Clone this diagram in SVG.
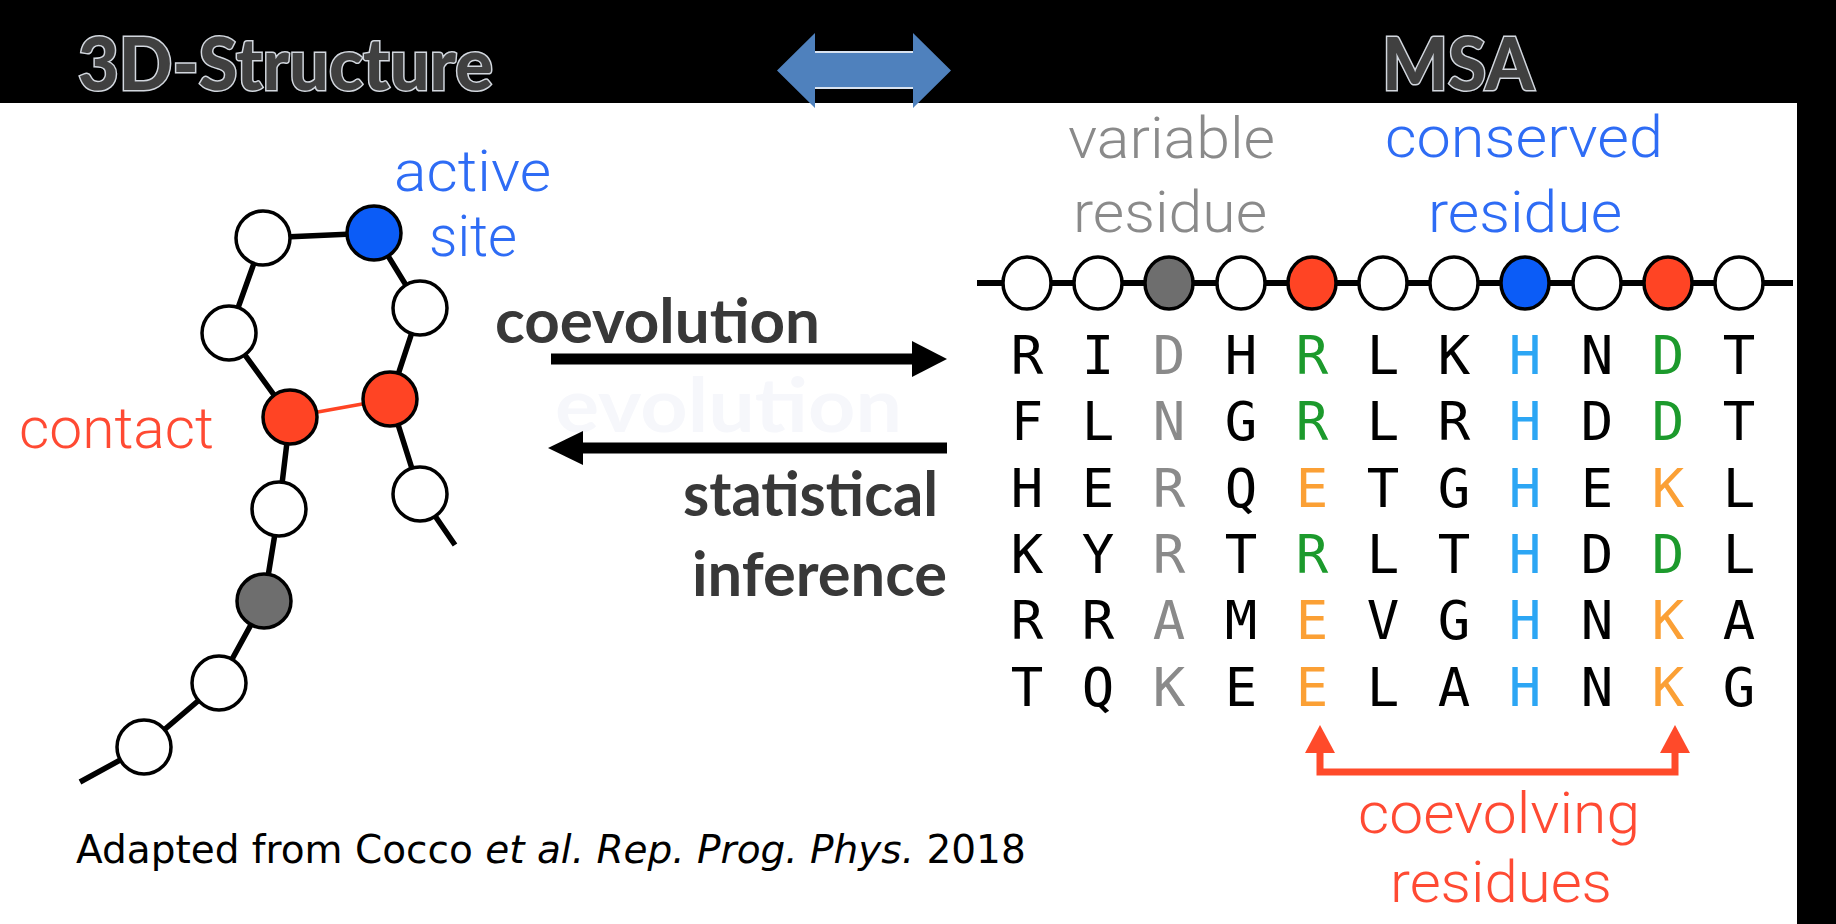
<svg xmlns="http://www.w3.org/2000/svg" width="1836" height="924" viewBox="0 0 1836 924">
  <style>
    .title { font-family: Lato, "Liberation Sans", sans-serif; font-weight: 900; font-size: 72px; fill: #404040; stroke: #d2d7de; stroke-width: 3px; paint-order: stroke; }
    .lbl { font-family: Roboto, "Liberation Sans", sans-serif; font-weight: 300; font-size: 58px; }
    .bold { font-family: Lato, "Liberation Sans", sans-serif; font-weight: 700; font-size: 62px; fill: #383838; }
    .msa { font-family: "DejaVu Sans Mono", "Liberation Mono", monospace; font-size: 54px; text-anchor: middle; fill: #000; }
    .g { fill: #8a8a8a; } .gr { fill: #1c9a2c; } .bl { fill: #2ca6f4; } .or { fill: #fba035; }
    .node { stroke: #000; stroke-width: 3.5; }
    .w { fill: #fff; } .red { fill: #ff4424; } .blue { fill: #0b5cf7; } .gray { fill: #6e6e6e; }
    .chain { stroke: #000; stroke-width: 5.5; fill: none; stroke-linecap: butt; }
  </style>

  <rect x="0" y="0" width="1836" height="924" fill="#000"/>
  <rect x="0" y="103" width="1797" height="821" fill="#fff"/>

  <!-- titles -->
  <text id="title-3d" class="title" x="78" y="90" textLength="415" lengthAdjust="spacingAndGlyphs">3D-Structure</text>
  <text id="title-msa" class="title" x="1382" y="90" textLength="152" lengthAdjust="spacingAndGlyphs">MSA</text>

  <!-- top double arrow -->
  <g id="top-arrow">
    <polygon points="777,70.5 815,33 815,52 913,52 913,33 951,70.5 913,108 913,88 815,88 815,108" fill="#4f81bd"/>
    <line x1="815" y1="52" x2="913" y2="52" stroke="#d9e3f0" stroke-width="2"/>
    <line x1="815" y1="88" x2="913" y2="88" stroke="#d9e3f0" stroke-width="2"/>
  </g>

  <!-- left structure connectors -->
  <g id="structure-connectors">
    <polyline class="chain" points="80,782 144,747 219,683 264,601 279,509 290,417 229,333 263,238 374,233 420,308 390,399 420,494 455,545"/>
    <line x1="290" y1="417" x2="390" y2="399" stroke="#ff4424" stroke-width="3.5"/>
  </g>

  <!-- left structure nodes -->
  <g id="s1"><circle class="node w" cx="144" cy="747" r="27"/></g>
  <g id="s2"><circle class="node w" cx="219" cy="683" r="27"/></g>
  <g id="s3"><circle class="node gray" cx="264" cy="601" r="27"/></g>
  <g id="s4"><circle class="node w" cx="279" cy="509" r="27"/></g>
  <g id="s5"><circle class="node red" cx="290" cy="417" r="27"/></g>
  <g id="s6"><circle class="node w" cx="229" cy="333" r="27"/></g>
  <g id="s7"><circle class="node w" cx="263" cy="238" r="27"/></g>
  <g id="s8"><circle class="node blue" cx="374" cy="233" r="27"/></g>
  <g id="s9"><circle class="node w" cx="420" cy="308" r="27"/></g>
  <g id="s10"><circle class="node red" cx="390" cy="399" r="27"/></g>
  <g id="s11"><circle class="node w" cx="420" cy="494" r="27"/></g>

  <g id="labels-left">
    <text class="lbl" x="394" y="191" font-size="54" fill="#2e6cf5" textLength="157" lengthAdjust="spacingAndGlyphs">active</text>
    <text class="lbl" x="429" y="256" font-size="54" fill="#2e6cf5" textLength="88" lengthAdjust="spacingAndGlyphs">site</text>
    <text class="lbl" x="19" y="448" fill="#ff4a33" textLength="195" lengthAdjust="spacingAndGlyphs">contact</text>
  </g>

  <!-- middle arrows -->
  <g id="middle-arrows">
    <text x="555" y="432" font-family="Lato, 'Liberation Sans', sans-serif" font-weight="700" font-size="75" fill="#f6f7fb" textLength="347" lengthAdjust="spacingAndGlyphs">evolution</text>
    <rect x="551" y="353.5" width="363" height="11" fill="#000"/>
    <polygon points="912,341 947,359 912,377" fill="#000"/>
    <rect x="582" y="442.5" width="365" height="11" fill="#000"/>
    <polygon points="583,431 548,448 583,465" fill="#000"/>
    <text class="bold" x="495" y="343" textLength="325" lengthAdjust="spacingAndGlyphs">coevolution</text>
    <text class="bold" x="683" y="516" textLength="255" lengthAdjust="spacingAndGlyphs">statistical</text>
    <text class="bold" x="692" y="596" textLength="255" lengthAdjust="spacingAndGlyphs">inference</text>
  </g>

  <!-- MSA labels -->
  <g id="labels-msa">
    <text class="lbl" x="1068" y="158" fill="#8a8a8a" textLength="207" lengthAdjust="spacingAndGlyphs">variable</text>
    <text class="lbl" x="1073" y="232" fill="#8a8a8a" textLength="194" lengthAdjust="spacingAndGlyphs">residue</text>
    <text class="lbl" x="1385" y="157" fill="#2e6cf5" textLength="278" lengthAdjust="spacingAndGlyphs">conserved</text>
    <text class="lbl" x="1428" y="232" fill="#2e6cf5" textLength="194" lengthAdjust="spacingAndGlyphs">residue</text>
  </g>

  <!-- MSA chain -->
  <g id="msa-connectors">
    <line x1="977" y1="283" x2="1793" y2="283" stroke="#000" stroke-width="6"/>
  </g>
  <g id="m1"><ellipse class="node w" cx="1027" cy="283" rx="24" ry="26"/></g>
  <g id="m2"><ellipse class="node w" cx="1098" cy="283" rx="24" ry="26"/></g>
  <g id="m3"><ellipse class="node gray" cx="1169" cy="283" rx="24" ry="26"/></g>
  <g id="m4"><ellipse class="node w" cx="1241" cy="283" rx="24" ry="26"/></g>
  <g id="m5"><ellipse class="node red" cx="1312" cy="283" rx="24" ry="26"/></g>
  <g id="m6"><ellipse class="node w" cx="1383" cy="283" rx="24" ry="26"/></g>
  <g id="m7"><ellipse class="node w" cx="1454" cy="283" rx="24" ry="26"/></g>
  <g id="m8"><ellipse class="node blue" cx="1525" cy="283" rx="24" ry="26"/></g>
  <g id="m9"><ellipse class="node w" cx="1597" cy="283" rx="24" ry="26"/></g>
  <g id="m10"><ellipse class="node red" cx="1668" cy="283" rx="24" ry="26"/></g>
  <g id="m11"><ellipse class="node w" cx="1739" cy="283" rx="24" ry="26"/></g>

  <!-- MSA letters -->
  <g id="alignment" class="msa">
    <text y="374"><tspan x="1027">R</tspan><tspan x="1098">I</tspan><tspan x="1169" class="g">D</tspan><tspan x="1241">H</tspan><tspan x="1312" class="gr">R</tspan><tspan x="1383">L</tspan><tspan x="1454">K</tspan><tspan x="1525" class="bl">H</tspan><tspan x="1597">N</tspan><tspan x="1668" class="gr">D</tspan><tspan x="1739">T</tspan></text>
    <text y="440"><tspan x="1027">F</tspan><tspan x="1098">L</tspan><tspan x="1169" class="g">N</tspan><tspan x="1241">G</tspan><tspan x="1312" class="gr">R</tspan><tspan x="1383">L</tspan><tspan x="1454">R</tspan><tspan x="1525" class="bl">H</tspan><tspan x="1597">D</tspan><tspan x="1668" class="gr">D</tspan><tspan x="1739">T</tspan></text>
    <text y="507"><tspan x="1027">H</tspan><tspan x="1098">E</tspan><tspan x="1169" class="g">R</tspan><tspan x="1241">Q</tspan><tspan x="1312" class="or">E</tspan><tspan x="1383">T</tspan><tspan x="1454">G</tspan><tspan x="1525" class="bl">H</tspan><tspan x="1597">E</tspan><tspan x="1668" class="or">K</tspan><tspan x="1739">L</tspan></text>
    <text y="573"><tspan x="1027">K</tspan><tspan x="1098">Y</tspan><tspan x="1169" class="g">R</tspan><tspan x="1241">T</tspan><tspan x="1312" class="gr">R</tspan><tspan x="1383">L</tspan><tspan x="1454">T</tspan><tspan x="1525" class="bl">H</tspan><tspan x="1597">D</tspan><tspan x="1668" class="gr">D</tspan><tspan x="1739">L</tspan></text>
    <text y="639"><tspan x="1027">R</tspan><tspan x="1098">R</tspan><tspan x="1169" class="g">A</tspan><tspan x="1241">M</tspan><tspan x="1312" class="or">E</tspan><tspan x="1383">V</tspan><tspan x="1454">G</tspan><tspan x="1525" class="bl">H</tspan><tspan x="1597">N</tspan><tspan x="1668" class="or">K</tspan><tspan x="1739">A</tspan></text>
    <text y="706"><tspan x="1027">T</tspan><tspan x="1098">Q</tspan><tspan x="1169" class="g">K</tspan><tspan x="1241">E</tspan><tspan x="1312" class="or">E</tspan><tspan x="1383">L</tspan><tspan x="1454">A</tspan><tspan x="1525" class="bl">H</tspan><tspan x="1597">N</tspan><tspan x="1668" class="or">K</tspan><tspan x="1739">G</tspan></text>
  </g>

  <!-- coevolving bracket -->
  <g id="coevolving-bracket">
    <polyline points="1320,752 1320,772 1675,772 1675,752" fill="none" stroke="#ff4a2a" stroke-width="7"/>
    <polygon points="1320,725 1335,753 1305,753" fill="#ff4a2a"/>
    <polygon points="1675,725 1690,753 1660,753" fill="#ff4a2a"/>
    <text class="lbl" x="1358" y="833" fill="#ff4a33" textLength="282" lengthAdjust="spacingAndGlyphs">coevolving</text>
    <text class="lbl" x="1390" y="902" fill="#ff4a33" textLength="222" lengthAdjust="spacingAndGlyphs">residues</text>
  </g>

  <!-- citation -->
  <text id="citation" x="76" y="863" font-family="'DejaVu Sans', sans-serif" font-size="39" fill="#000">Adapted from Cocco <tspan font-style="italic">et al. Rep. Prog. Phys.</tspan> 2018</text>
</svg>
